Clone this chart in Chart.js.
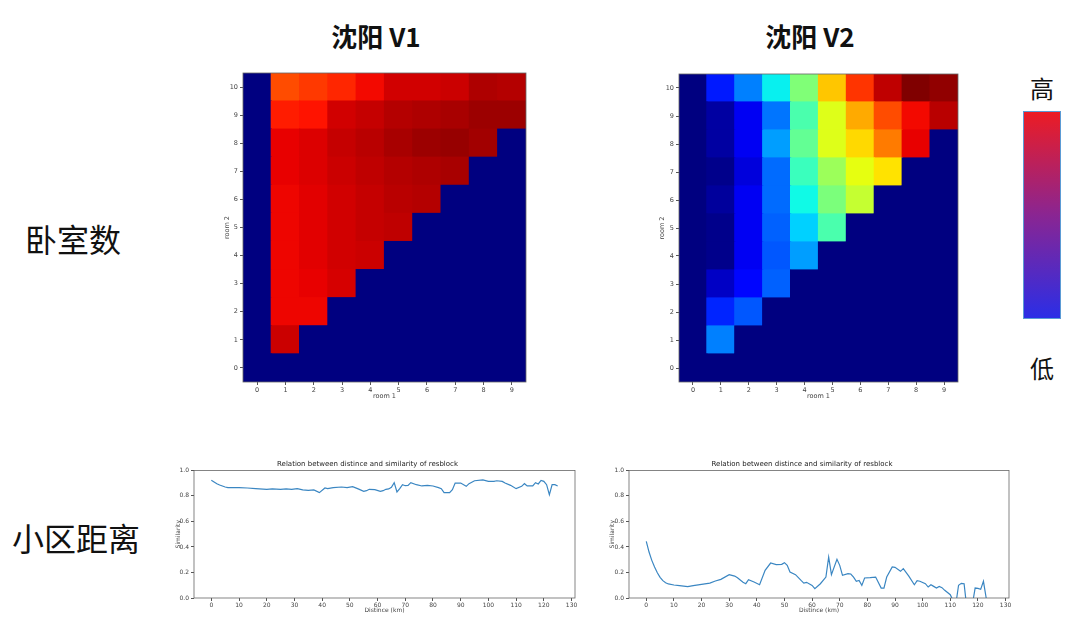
<!DOCTYPE html>
<html>
<head>
<meta charset="utf-8">
<title>沈阳 V1 / V2</title>
<script src="https://cdn.jsdelivr.net/npm/chart.js"></script>
<style>
body{margin:0;background:#fff;width:1080px;height:631px;position:relative;overflow:hidden;font-family:"Noto Sans CJK SC",sans-serif}
.box{position:absolute}
.lbl{position:absolute;color:#111;white-space:nowrap;line-height:1}
.ttl{font-weight:bold;font-size:26px;transform:translateX(-50%)}
.side{font-size:32px}
.cb{position:absolute;left:1023px;top:111px;width:36px;height:206px;border:1.5px solid #5b9bd5;background:linear-gradient(#ec1c24,#8a2592 50%,#2b2ee6)}
</style>
</head>
<body>
<div class="lbl ttl" style="left:376px;top:23px">沈阳 V1</div>
<div class="lbl ttl" style="left:810px;top:23px">沈阳 V2</div>
<div class="lbl side" style="left:25px;top:222px">卧室数</div>
<div class="lbl side" style="left:12px;top:521px">小区距离</div>
<div class="lbl" style="left:1030px;top:76px;font-size:24px">高</div>
<div class="lbl" style="left:1030px;top:356px;font-size:24px">低</div>
<div class="cb"></div>

<div class="box" style="left:210px;top:63px;width:326px;height:350px"><canvas id="h1"></canvas></div>
<div class="box" style="left:646px;top:64px;width:322px;height:349px"><canvas id="h2"></canvas></div>
<div class="box" style="left:160px;top:457px;width:425px;height:168px"><canvas id="l1"></canvas></div>
<div class="box" style="left:595px;top:457px;width:424px;height:168px"><canvas id="l2"></canvas></div>

<script>
// heatmap axes
const room1 = ['0','1','2','3','4','5','6','7','8','9'];
const room2 = [0,1,2,3,4,5,6,7,8,9,10];

// similarity per cell, row = room 2, column = room 1
const v1Cells = [
  [0,0,0,0,0,0,0,0,0,0],
  [0,0.935,0,0,0,0,0,0,0,0],
  [0,0.905,0.905,0,0,0,0,0,0,0],
  [0,0.905,0.91,0.925,0,0,0,0,0,0],
  [0,0.905,0.915,0.93,0.935,0,0,0,0,0],
  [0,0.905,0.915,0.93,0.94,0.945,0,0,0,0],
  [0,0.905,0.915,0.93,0.94,0.95,0.955,0,0,0],
  [0,0.91,0.92,0.935,0.945,0.955,0.96,0.965,0,0],
  [0,0.91,0.92,0.94,0.95,0.965,0.975,0.98,0.97,0],
  [0,0.88,0.89,0.93,0.94,0.955,0.96,0.965,0.975,0.975],
  [0,0.83,0.85,0.87,0.90,0.93,0.93,0.935,0.96,0.955]
];
const v2Cells = [
  [0,0,0,0,0,0,0,0,0,0],
  [0,0.25,0,0,0,0,0,0,0,0],
  [0,0.16,0.21,0,0,0,0,0,0,0],
  [0,0.06,0.13,0.22,0,0,0,0,0,0],
  [0,0.01,0.10,0.21,0.28,0,0,0,0,0],
  [0,0.01,0.10,0.22,0.33,0.44,0,0,0,0],
  [0,0.025,0.10,0.23,0.37,0.50,0.59,0,0,0],
  [0,0.01,0.08,0.23,0.42,0.54,0.63,0.67,0,0],
  [0,0.03,0.10,0.28,0.47,0.62,0.68,0.78,0.91,0],
  [0,0.03,0.10,0.24,0.44,0.62,0.73,0.83,0.90,0.95],
  [0,0.15,0.25,0.36,0.505,0.70,0.855,0.945,1.0,0.985]
];

// distance vs similarity
const distTicks = [0,10,20,30,40,50,60,70,80,90,100,110,120,130];
const simTicks = [0,0.2,0.4,0.6,0.8,1.0];

const distV1 = [0,1,2,3,4,5,6,8,10,13,16,20,22,25,27,29,31,33,35,37,39,41,42,44,47,49,51,53,55,56,57,59,61,62,63,64,65,66,67,68,69,70,71,72,74,76,78,80,82,83,84,86,87,88,90,92,93,95,98,100,102,103,105,106,108,110,112,113,114,116,117,118,119,120,121,122,123,124,125];
const simV1 = [0.922,0.909,0.896,0.886,0.878,0.870,0.865,0.865,0.865,0.862,0.857,0.852,0.855,0.852,0.855,0.852,0.857,0.847,0.844,0.847,0.826,0.862,0.857,0.865,0.870,0.865,0.873,0.855,0.836,0.841,0.852,0.849,0.836,0.841,0.852,0.855,0.868,0.904,0.831,0.857,0.888,0.880,0.883,0.904,0.888,0.878,0.883,0.878,0.865,0.857,0.826,0.826,0.849,0.901,0.901,0.875,0.896,0.919,0.925,0.914,0.914,0.919,0.914,0.901,0.883,0.857,0.875,0.896,0.878,0.878,0.904,0.894,0.922,0.914,0.888,0.810,0.888,0.888,0.878];

const distV2 = [0,1,2,3,4,5,6,7,8,10,12,15,17,20,23,25,27,30,32,33,35,36,37,39,41,43,45,47,49,50,51,52,54,56,57,58,60,61,63,65,66,67,69,70,71,73,74,75,76,77,78,79,81,83,85,86,87,89,90,92,93,95,97,98,99,101,102,103,104,105,106,107,108,110,111,112,113,114,115,116,117,118,119,120,121,122,123,124];
const simV2 = [0.444,0.360,0.295,0.243,0.198,0.162,0.136,0.120,0.110,0.102,0.097,0.089,0.097,0.107,0.117,0.133,0.146,0.183,0.172,0.159,0.123,0.112,0.144,0.125,0.104,0.217,0.274,0.261,0.264,0.277,0.256,0.204,0.183,0.138,0.117,0.123,0.099,0.073,0.112,0.164,0.321,0.183,0.303,0.256,0.178,0.191,0.188,0.164,0.131,0.138,0.099,0.157,0.159,0.164,0.078,0.078,0.164,0.243,0.240,0.209,0.230,0.172,0.104,0.136,0.131,0.112,0.086,0.104,0.091,0.078,0.091,0.081,0.060,0.026,-0.02,-0.05,0.10,0.115,0.112,-0.08,-0.10,-0.05,0.078,0.075,0.068,0.131,0.0,-0.12];

// matplotlib jet
const jetR = [[0,0],[0.35,0],[0.66,1],[0.89,1],[1,0.5]];
const jetG = [[0,0],[0.125,0],[0.375,1],[0.64,1],[0.91,0],[1,0]];
const jetB = [[0,0.5],[0.11,1],[0.34,1],[0.65,0],[1,0]];
function seg(pts, v){
  for(let i=1;i<pts.length;i++){
    if(v<=pts[i][0]){
      const [x0,y0]=pts[i-1],[x1,y1]=pts[i];
      return y0+(y1-y0)*(v-x0)/(x1-x0);
    }
  }
  return pts[pts.length-1][1];
}
function jet(v){
  return 'rgb('+[jetR,jetG,jetB].map(p=>Math.round(255*seg(p,v))).join(',')+')';
}

Chart.defaults.font.family = '"DejaVu Sans", sans-serif';
Chart.defaults.color = '#444';
Chart.defaults.animation = false;

const frame = {
  id:'frame',
  afterDraw(c){
    const a=c.chartArea, ctx=c.ctx;
    ctx.save();
    ctx.strokeStyle='#666'; ctx.lineWidth=0.8;
    ctx.strokeRect(a.left,a.top,a.right-a.left,a.bottom-a.top);
    ctx.restore();
  }
};

const tickGrid = {display:true, drawOnChartArea:false, drawTicks:true, tickLength:3, color:'#555', offset:false};

function heatmap(id, cells, yw, xh, pad, yTitleOff, xTitleOff){
  const datasets = room2.map(r => ({
    data: room1.map(() => [r-0.5, r+0.5]),
    backgroundColor: room1.map((c,i) => jet(cells[r][i])),
    borderWidth: 0,
    inflateAmount: 0.6,
    barPercentage: 1,
    categoryPercentage: 1,
    grouped: false
  }));
  new Chart(document.getElementById(id), {
    type:'bar',
    data:{labels:room1, datasets},
    options:{
      responsive:true, maintainAspectRatio:false,
      layout:{padding:pad},
      plugins:{legend:{display:false}, tooltip:{enabled:false}},
      scales:{
        x:{type:'category', offset:true, grid:tickGrid, border:{display:false},
           ticks:{font:{size:6.5}, padding:1, maxRotation:0},
           title:{display:true, text:'room 1', font:{size:6.5}, padding:{top:0,bottom:xTitleOff}},
           afterFit:s=>{s.height=xh;}},
        y:{type:'linear', min:-0.5, max:10.5, grid:tickGrid, border:{display:false},
           ticks:{font:{size:6.5}, padding:2},
           afterBuildTicks:s=>{s.ticks=room2.map(v=>({value:v}));},
           title:{display:true, text:'room 2', font:{size:6.5}, padding:{top:yTitleOff,bottom:0}},
           afterFit:s=>{s.width=yw;}}
      }
    },
    plugins:[frame]
  });
}

function lineChart(id, xs, ys, yw, xh, pad, yTitleOff, xTitleOff){
  new Chart(document.getElementById(id), {
    type:'line',
    data:{datasets:[{
      data: xs.map((x,i)=>({x, y:ys[i]})),
      borderColor:'#3a86c2', borderWidth:1.2, pointRadius:0, tension:0, fill:false
    }]},
    options:{
      responsive:true, maintainAspectRatio:false,
      layout:{padding:pad},
      plugins:{
        legend:{display:false}, tooltip:{enabled:false},
        title:{display:true, text:'Relation between distince and similarity of resblock',
               color:'#222', font:{size:7, weight:'normal'}, padding:{top:3,bottom:2}}
      },
      scales:{
        x:{type:'linear', min:-6.25, max:131.25, grid:tickGrid, border:{display:false},
           ticks:{font:{size:6}, padding:1, maxRotation:0},
           afterBuildTicks:s=>{s.ticks=distTicks.map(v=>({value:v}));},
           title:{display:true, text:'Distince (km)', font:{size:6}, padding:{top:0,bottom:xTitleOff}},
           afterFit:s=>{s.height=xh;}},
        y:{type:'linear', min:0, max:1, grid:tickGrid, border:{display:false},
           ticks:{font:{size:6}, padding:2, callback:v=>v.toFixed(1)},
           afterBuildTicks:s=>{s.ticks=simTicks.map(v=>({value:v}));},
           title:{display:true, text:'Similarity', font:{size:6}, padding:{top:yTitleOff,bottom:0}},
           afterFit:s=>{s.width=yw;}}
      }
    },
    plugins:[frame]
  });
}

heatmap('h1', v1Cells, 33, 31, {top:10,right:10,left:0,bottom:0}, 13, 13);
heatmap('h2', v2Cells, 33, 31, {top:10,right:10,left:0,bottom:0}, 12, 13);
lineChart('l1', distV1, simV1, 34, 27, {top:0,right:10,left:0,bottom:0}, 15, 11);
lineChart('l2', distV2, simV2, 34, 27, {top:0,right:10,left:0,bottom:0}, 14, 11);
</script>
</body>
</html>
